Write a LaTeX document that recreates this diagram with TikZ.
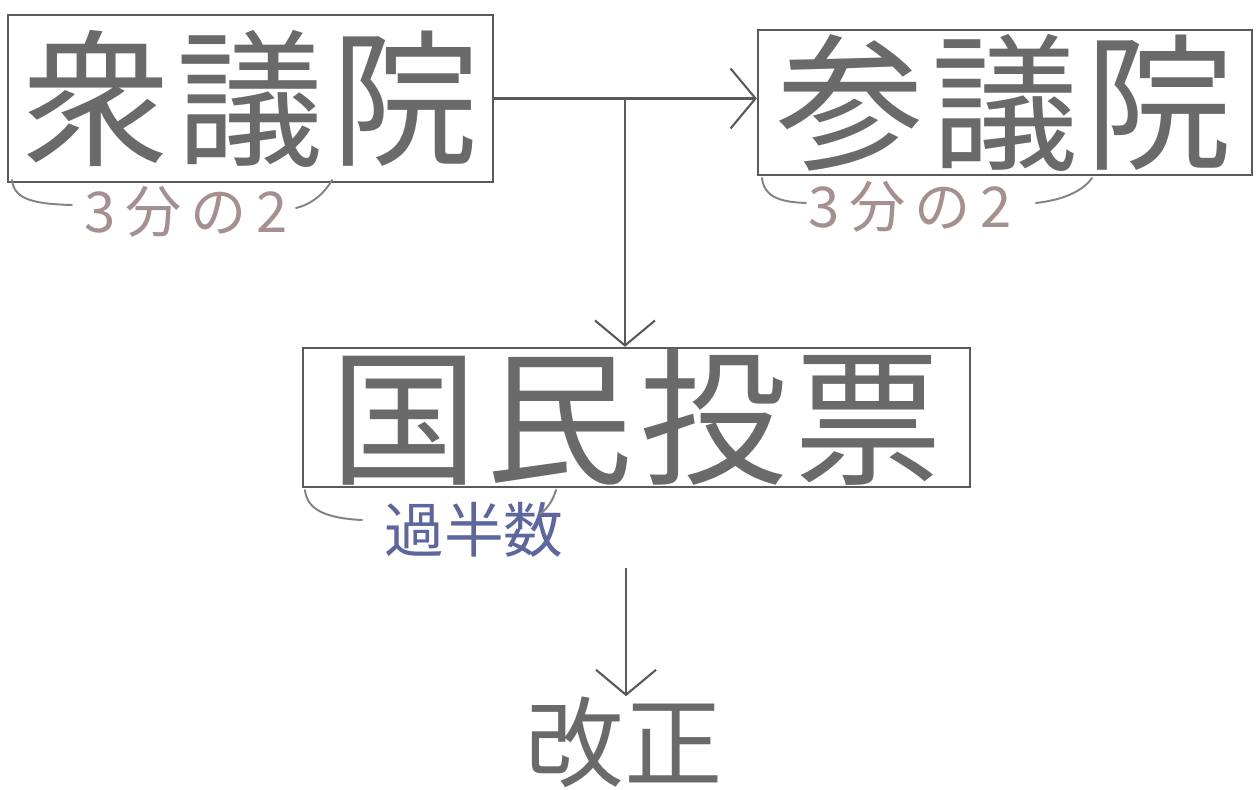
\documentclass[tikz,border=0pt]{standalone}
\usepackage{fontspec}
\newfontfamily\cjk{Noto Sans CJK JP}
\usetikzlibrary{arrows.meta}
\definecolor{ink}{HTML}{5A5A5A}
\definecolor{textink}{HTML}{6A6A6A}
\definecolor{pinkink}{HTML}{A58F8F}
\definecolor{blueink}{HTML}{5E66A0}
\begin{document}
\begin{tikzpicture}[x=0.02cm,y=-0.02cm,
  box/.style={draw=ink, line width=1.3pt, inner sep=0pt, text=textink,
    font=\cjk\fontsize{84}{90}\selectfont},
  conn/.style={draw=ink, line width=1.2pt,
    -{Straight Barb[length=5mm,width=12mm,line width=1.2pt]}},
  brace/.style={draw=ink!75, line width=1.1pt, line cap=round},
  note/.style={inner sep=0pt, font=\cjk\fontsize{32}{36}\selectfont}]
\fill[white] (0,0) rectangle (1259,790);
\useasboundingbox (0,0) rectangle (1259,790);
% boxes
\node[box, minimum width=9.7cm, minimum height=3.34cm] (b1) at (250.5,98.5) {衆\hspace{4pt}議\hspace{4pt}院};
\node[box, minimum width=9.88cm, minimum height=2.9cm] (b2) at (1005,102.5) {参\hspace{4pt}議\hspace{4pt}院};
\node[box, minimum width=13.34cm, minimum height=2.78cm] (b3) at (636.5,417.5) {国\hspace{4pt}民\hspace{4pt}投\hspace{4pt}票};
\node[inner sep=0pt, text=textink, font=\cjk\fontsize{56}{60}\selectfont] (kaisei) at (624,742) {改正};
% labels
\node[note, text=pinkink] (l1) at (186,212) {3\,分\,の\,2};
\node[note, text=pinkink] (l2) at (910,207) {3\,分\,の\,2};
\node[note, text=blueink, font=\cjk\fontsize{34}{38}\selectfont] (l3) at (474,530) {過半数};
% braces
\draw[brace] (12,180) .. controls (14,198) and (30,204) .. (72,205);
\draw[brace] (296,208) .. controls (312,204) and (324,194) .. (332,180);
\draw[brace] (762,178) .. controls (764,196) and (778,202) .. (806,203);
\draw[brace] (1036,203) .. controls (1062,200) and (1082,192) .. (1092,178);
\draw[brace] (305,490) .. controls (307,508) and (322,518) .. (362,520);
\draw[brace] (540,514) .. controls (548,508) and (553,500) .. (556,490);
% connectors
\coordinate (j) at (625,98.5);
\coordinate (s) at (626,568);
\draw[conn] (b1.east) -- (b2.west |- b1.east);
\draw[conn] (j) -- (j |- b3.north);
\draw[conn] (s) -- (s |- kaisei.north);
\end{tikzpicture}
\end{document}
